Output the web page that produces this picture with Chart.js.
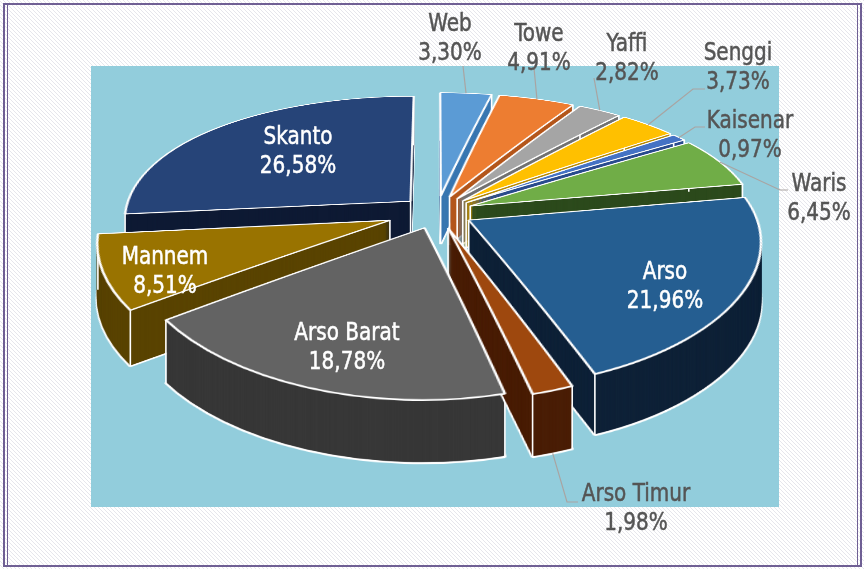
<!DOCTYPE html>
<html>
<head>
<meta charset="utf-8">
<script src="https://cdn.jsdelivr.net/npm/chart.js@4.4.1/dist/chart.umd.min.js"></script>
<style>
html,body{margin:0;padding:0;background:#fff;overflow:hidden}
#wrap{width:864px;height:569px;position:relative}
canvas{display:block}
</style>
</head>
<body>
<div id="wrap"><canvas id="c" width="864" height="569"></canvas></div>
<script>
// ---- data ----
const categories = ['Web','Towe','Yaffi','Senggi','Kaisenar','Waris','Arso','Arso Timur','Arso Barat','Mannem','Skanto'];
const shares = [3.30, 4.91, 2.82, 3.73, 0.97, 6.45, 21.96, 1.98, 18.78, 8.51, 26.58];

// ---- styles ----
const topColors  = ['#5B9BD5','#ED7D31','#A5A5A5','#FFC000','#4472C4','#70AD47','#255E91','#9E480E','#636363','#997300','#264478'];
const sideColors = ['#3A78B2','#B4571C','#727272','#B88A00','#2A4C8E','#2C4A1C','#0F2238','#4A1E06','#383838','#5A4400','#0E1A34'];
const explode    = [36, 36, 36, 36, 36, 36, 36, 36, 36, 50, 36];

// label layout (screen px): first line centre, leader start, optional elbow
const labelLayout = [
  {x:450, y:24,  lead:[463,66]},
  {x:539, y:34,  lead:[534,68]},
  {x:627, y:44,  lead:[594,78]},
  {x:738, y:53,  lead:[705,89],  elbow:[693,89]},
  {x:750, y:121, lead:[705,127], elbow:[695,127]},
  {x:819, y:184, lead:[788,190], elbow:[780,190]},
  {x:665, y:272, inside:true},
  {x:636, y:494, lead:[578,502], elbow:[567,502], bottom:true},
  {x:347, y:333, inside:true},
  {x:165, y:257, inside:true},
  {x:298, y:137, inside:true}
];

const TILT = 0.455;     // vertical foreshortening of the pie plane
const DIST = 1415;      // perspective distance
const XPERSP = 0.7;     // share of perspective applied horizontally
const DEPTH0 = 49;      // thickness at the centre line (screen px)
const RADIUS = 286;
const FONT = "25px 'Liberation Sans Narrow', 'DejaVu Sans Condensed', 'Roboto Condensed', 'Liberation Sans', sans-serif";
const TEXT_SQUEEZE = 0.89;

function fmtPct(v){ return v.toFixed(2).replace('.', ',') + '%'; }
function geom(el, i){
  const h = (el.startAngle + el.endAngle) / 2;
  const e = explode[i];
  return {h, dx: Math.cos(h) * e, dy: Math.sin(h) * e};
}
function persp(v){ return 1 / (1 - v / DIST); }
function perspX(p){ return 1 + (p - 1) * XPERSP; }
// plane point (x, v) relative to pie centre (cx, cy) -> screen
function mapPt(x, v, cx, cy){ const p = persp(v); return [cx + (x - cx) * perspX(p), cy + TILT * v * p]; }
function frontDepth(el, i){
  const g = geom(el, i);
  let s = Math.max(Math.sin(el.startAngle), Math.sin(el.endAngle), 0);
  const TAU = Math.PI * 2;
  const k = Math.ceil((el.startAngle - Math.PI / 2) / TAU);
  if (Math.PI / 2 + k * TAU <= el.endAngle) s = 1;
  const v = g.dy + el.outerRadius * s;
  return Math.round(DEPTH0 * persp(v));
}

function warp(src, octx, cx, cy, cyO){
  const W = src.width;
  for (let yd = 40; yd < 480; yd++){
    const t = (yd + 0.5 - cy) / TILT;
    const v = t / (1 + t / DIST);
    const p = persp(v);
    const px = perspX(p);
    const span = 1 / (TILT * p * p);
    const sy = cyO + v - span / 2;
    if (sy < 0 || sy + span > src.height) continue;
    octx.drawImage(src, 0, sy, W, span, cx - cx * px, yd, W * px, 1);
  }
}

const bgPlugin = {
  id: 'bg',
  beforeDraw(chart){
    const ctx = chart.ctx, W = chart.width, H = chart.height;
    ctx.save();
    ctx.fillStyle = '#ffffff';
    ctx.fillRect(0, 0, W, H);
    ctx.strokeStyle = 'rgba(200,200,212,0.45)';
    ctx.lineWidth = 1;
    ctx.beginPath();
    for (let k = -H; k < W; k += 4){ ctx.moveTo(k, 0); ctx.lineTo(k + H, H); }
    ctx.stroke();
    ctx.fillStyle = '#92CDDC';
    ctx.fillRect(91, 66, 688, 441);
    ctx.strokeStyle = '#6F5F94';
    ctx.lineWidth = 2;
    ctx.strokeRect(4, 4, 857, 562);
    ctx.lineWidth = 1;
    ctx.beginPath();
    ctx.moveTo(7.5, 4); ctx.lineTo(7.5, 566);
    ctx.moveTo(857.5, 4); ctx.lineTo(857.5, 566);
    ctx.stroke();
    ctx.restore();
  }
};

const pie3d = {
  id: 'pie3d',
  beforeDatasetDraw(chart, args){
    const ctx = chart.ctx;
    const els = chart.getDatasetMeta(args.index).data;
    const cx = els[0].x, cy = els[0].y;
    const W = chart.width, H = chart.height;
    const SH = 780, cyO = 390;
    const src = document.createElement('canvas');
    src.width = W; src.height = SH;
    const sctx = src.getContext('2d');

    function layer(el, g, opts){
      const out = document.createElement('canvas');
      out.width = W; out.height = H;
      sctx.clearRect(0, 0, W, SH);
      const orig = el.options;
      el.options = Object.assign({}, orig, opts);
      sctx.save();
      sctx.translate(g.dx, g.dy + cyO - cy);
      el.draw(sctx);
      sctx.restore();
      el.options = orig;
      warp(src, out.getContext('2d'), cx, cy, cyO);
      return out;
    }

    const order = els.map((e, i) => i).sort((a, b) => Math.sin(geom(els[a], a).h) - Math.sin(geom(els[b], b).h));
    const tops = [];
    for (const i of order){
      const el = els[i];
      const g = geom(el, i);
      const depth = frontDepth(el, i);
      const bottomImg = layer(el, g, {backgroundColor: sideColors[i], borderColor: '#ffffff', borderWidth: 3});
      const sideImg = layer(el, g, {backgroundColor: sideColors[i], borderWidth: 0});
      tops.push(layer(el, g, {borderColor: '#ffffff', borderWidth: 2.4}));
      ctx.drawImage(bottomImg, 0, depth);
      for (let d = depth - 1; d >= 1; d--) ctx.drawImage(sideImg, 0, d);
      // white vertical edges
      const R = el.outerRadius;
      const corners = [[el.x + g.dx, g.dy],
        [el.x + g.dx + R * Math.cos(el.startAngle), g.dy + R * Math.sin(el.startAngle)],
        [el.x + g.dx + R * Math.cos(el.endAngle), g.dy + R * Math.sin(el.endAngle)]];
      ctx.save();
      ctx.strokeStyle = '#ffffff';
      ctx.lineWidth = 1.6;
      ctx.beginPath();
      for (const c of corners){
        const s = mapPt(c[0], c[1], cx, cy);
        ctx.moveTo(s[0], s[1]);
        ctx.lineTo(s[0], s[1] + depth);
      }
      ctx.stroke();
      ctx.restore();
    }
    for (const img of tops) ctx.drawImage(img, 0, 0);
    return false;
  }
};

const labelsPlugin = {
  id: 'labels3d',
  afterDraw(chart){
    const ctx = chart.ctx;
    const els = chart.getDatasetMeta(0).data;
    const cx = els[0].x, cy = els[0].y;
    ctx.save();
    ctx.font = FONT;
    ctx.textAlign = 'center';
    ctx.textBaseline = 'middle';
    els.forEach((el, i) => {
      const L = labelLayout[i];
      if (!L.inside){
        const g = geom(el, i);
        const px = el.x + g.dx + el.outerRadius * Math.cos(g.h);
        const pv = g.dy + el.outerRadius * Math.sin(g.h);
        const s = mapPt(px, pv, cx, cy);
        const py = s[1] + (L.bottom ? frontDepth(el, i) : 0);
        ctx.strokeStyle = '#A9A4A2';
        ctx.lineWidth = 1.2;
        ctx.beginPath();
        ctx.moveTo(L.lead[0], L.lead[1]);
        if (L.elbow) ctx.lineTo(L.elbow[0], L.elbow[1]);
        ctx.lineTo(s[0], py);
        ctx.stroke();
      }
      const col = L.inside ? '#ffffff' : '#555555';
      ctx.fillStyle = col;
      ctx.strokeStyle = col;
      ctx.lineWidth = 0.5;
      [categories[i], fmtPct(shares[i])].forEach((t, j) => {
        ctx.save();
        ctx.translate(L.x, L.y + j * 29);
        ctx.scale(TEXT_SQUEEZE, 1);
        ctx.fillText(t, 0, 0);
        ctx.strokeText(t, 0, 0);
        ctx.restore();
      });
    });
    ctx.restore();
  }
};

new Chart(document.getElementById('c'), {
  type: 'pie',
  data: {
    labels: categories,
    datasets: [{
      data: shares,
      backgroundColor: topColors,
      borderColor: '#ffffff',
      borderWidth: 2,
      offset: 0,
      hoverOffset: 0,
      radius: RADIUS,
      clip: false
    }]
  },
  options: {
    responsive: false,
    animation: false,
    events: [],
    radius: RADIUS,
    layout: {padding: {left: 10, right: 0, top: 0, bottom: 145}},
    plugins: {legend: {display: false}, tooltip: {enabled: false}}
  },
  plugins: [bgPlugin, pie3d, labelsPlugin]
});
</script>
</body>
</html>
